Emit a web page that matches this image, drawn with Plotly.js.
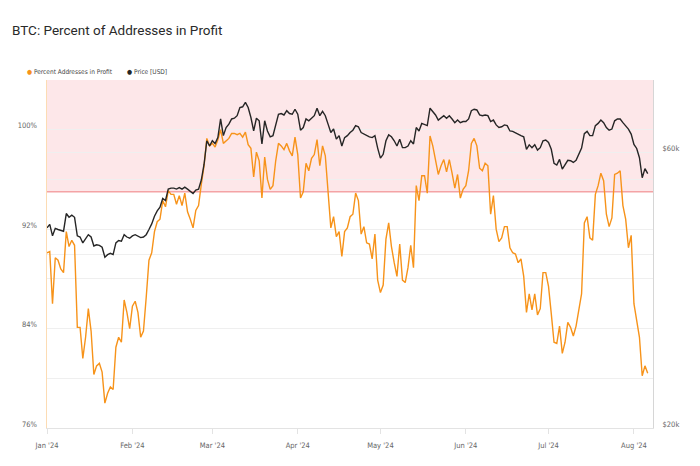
<!DOCTYPE html>
<html>
<head>
<meta charset="utf-8">
<script src="https://cdn.plot.ly/plotly-3.0.1.min.js"></script>
<style>html,body{margin:0;padding:0;background:#fff;}#chart{width:700px;height:466px;}</style>
</head>
<body>
<div id="chart"></div>
<script>
// Daily series starting 2024-01-01
const startDate = '2024-01-01';

// Percent of addresses in profit (%)
const pctInProfit = [
90.1,90.2,86.0,89.7,89.5,88.8,88.5,91.8,90.6,91.1,
90.7,84.1,84.1,81.6,83.3,85.6,83.8,80.3,81.0,81.2,
80.5,78.0,78.8,79.3,79.1,82.5,83.3,82.9,86.3,85.3,
84.0,85.8,86.2,85.3,83.3,83.8,86.5,89.5,90.1,91.8,
92.6,92.8,94.3,93.8,95.1,94.8,94.8,94.0,94.7,93.9,
94.9,93.4,92.8,92.1,93.5,93.9,95.6,97.1,99.3,98.7,
98.9,98.6,99.2,100.0,98.9,99.1,99.3,99.7,99.7,99.6,
99.7,99.4,99.8,98.8,98.5,96.2,98.2,97.5,94.5,97.8,
96.0,95.2,95.5,97.5,98.9,98.7,98.4,98.9,98.3,97.9,
99.4,98.0,94.5,95.0,97.3,96.7,97.7,98.0,99.2,97.1,
98.7,97.9,94.8,92.1,93.0,91.4,91.8,89.8,91.8,92.1,
93.0,93.2,94.9,94.3,91.6,92.2,90.9,90.8,89.6,91.6,
87.9,86.9,87.5,91.2,92.5,90.6,89.3,88.2,90.8,87.9,
87.7,88.9,90.7,88.9,95.5,94.3,96.3,96.3,94.9,99.5,
98.7,97.5,96.4,97.1,97.6,96.6,97.6,96.5,95.3,96.4,
94.5,95.2,95.5,96.7,98.9,99.3,98.7,96.9,96.7,97.3,
97.1,93.2,94.7,92.0,91.0,91.3,92.2,92.2,90.5,90.1,
90.0,89.3,89.6,88.2,85.3,86.8,85.5,86.8,85.1,85.6,
88.5,88.5,87.4,85.2,82.9,82.8,84.2,82.0,82.9,84.5,
84.1,83.4,84.2,85.5,86.8,92.5,93.0,91.3,91.1,94.8,
95.5,96.5,95.9,93.2,92.2,92.9,96.4,96.5,96.7,93.9,
92.8,90.5,91.5,86.0,84.8,83.3,80.2,81.0,80.4
];

// BTC price (USD)
const priceUSD = [
44400,45000,43000,44300,44100,43900,43800,47000,46300,46700,
46300,43000,42800,41800,42600,43200,42800,41300,41500,41400,
41100,39500,39900,40100,39900,41800,42200,42100,43200,42800,
42600,43000,43200,43000,42700,42800,43200,44100,45100,46500,
47500,48200,49900,49500,51800,52000,52000,51800,52100,51800,
52200,51800,51300,50900,51600,51800,53700,57200,62800,61500,
62800,62100,63600,68500,64100,66200,67100,68500,68700,69400,
71700,71900,73200,71700,68900,65300,68700,68000,62000,68000,
65300,63800,64100,67100,69800,70000,69600,70800,70000,69800,
71200,69800,65500,66200,68500,68000,68700,69400,71500,69400,
70600,69400,67100,64900,65800,63200,64100,61500,63600,64100,
64900,65500,66700,66400,64900,64500,64100,63800,63600,64100,
61000,58600,59500,62800,64300,63800,62800,61500,63200,61100,
61100,61500,62800,62000,66200,65300,67300,67100,66700,71500,
70600,69600,68200,68700,69400,68700,69400,68500,67500,68200,
67500,67800,67800,68500,70800,71200,71000,69600,69400,69600,
69400,67800,68200,66900,66200,66400,66900,66700,65300,65200,
64900,64600,64100,63800,60700,61800,61100,61800,60500,61100,
62800,63000,62400,60700,57400,57000,58300,56100,57200,58100,
58000,57600,58100,59500,61000,64600,65200,64100,64100,66700,
67300,68200,67500,66200,65500,65800,68000,68500,68500,67500,
66700,65800,64500,61900,60900,58700,54200,56200,55100
];

// Axis ticks
const pctTickVals = [76,80,84,88,92,96,100,104];
const pctTickText = ['76%','','84%','','92%','','100%',''];
const priceTickVals = [20000,40000,60000];
const priceTickText = ['$20k','','$60k'];
const profitThreshold = 95;

const seriesNames = ['Percent Addresses in Profit','Price [USD]'];
const colors = {pct:'#f7931a', price:'#262626'};

const dates = [];
{
  const d0 = new Date(startDate + 'T00:00:00Z');
  const n = Math.max(pctInProfit.length, priceUSD.length);
  for (let i = 0; i < n; i++) {
    const d = new Date(d0.getTime() + i*86400000);
    dates.push(d.toISOString().slice(0,10));
  }
}

const FONT = '"DejaVu Sans Condensed", "Liberation Sans", sans-serif';
const TITLEFONT = 'Roboto, "DejaVu Sans Condensed", sans-serif';

const traces = [
  {x: dates, y: pctInProfit, type:'scatter', mode:'lines', name: seriesNames[0],
   line:{color:colors.pct, width:1.4}, yaxis:'y', hoverinfo:'skip'},
  {x: dates, y: priceUSD, type:'scatter', mode:'lines', name: seriesNames[1],
   line:{color:colors.price, width:1.4}, yaxis:'y2', hoverinfo:'skip'}
];

const layout = {
  width:700, height:466,
  margin:{l:47, r:47, t:80, b:38},
  paper_bgcolor:'#fff', plot_bgcolor:'#fff',
  showlegend:false,
  font:{family:FONT, color:'#666', size:8},
  title:{text:'BTC: Percent of Addresses in Profit', xref:'container', yref:'container',
         x:12/700, xanchor:'left', y:1-30/466, yanchor:'middle',
         font:{family:TITLEFONT, size:13.5, color:'#2a2a2a'}},
  xaxis:{type:'date', range:['2024-01-01','2024-08-07 22:00'],
         dtick:'M1', tick0:'2024-01-01', tickformat:"%b '%y",
         showgrid:false, zeroline:false,
         showline:true, linecolor:'#e3e3e3', linewidth:1,
         ticks:'outside', ticklen:5, tickcolor:'#e3e3e3',
         tickfont:{size:7.5, color:'#666'}, ticklabelstandoff:5},
  yaxis:{range:[76,104], tickvals:pctTickVals, ticktext:pctTickText,
         showgrid:true, gridcolor:'#efefef', gridwidth:1, zeroline:false,
         showline:true, linecolor:'#fcdcb4', linewidth:1.5, ticks:'',
         tickfont:{size:7.5, color:'#666'}, ticklabelshift:-4, ticklabelstandoff:7},
  yaxis2:{type:'log', range:[Math.log10(20000), Math.log10(80000)], overlaying:'y', side:'right',
          tickvals:priceTickVals, ticktext:priceTickText,
          showgrid:true, gridcolor:'#efefef', gridwidth:1, zeroline:false,
          showline:true, linecolor:'#d6d6d6', linewidth:1, ticks:'',
          tickfont:{size:7.5, color:'#666'}, ticklabelshift:-4, ticklabelstandoff:7},
  shapes:[
    {type:'rect', xref:'paper', yref:'y', x0:0, x1:1, y0:profitThreshold, y1:104,
     fillcolor:'#fde7e9', line:{width:0}, layer:'below'},
    {type:'line', xref:'paper', yref:'y', x0:0, x1:1, y0:profitThreshold, y1:profitThreshold,
     line:{color:'#f4a3a5', width:1.5}, layer:'below'}
  ],
  annotations:[
    {xref:'paper', yref:'paper', x:-22/606, y:1+8/348, xanchor:'left', yanchor:'middle', showarrow:false,
     text:'<span style="color:'+colors.pct+'">●</span> '+seriesNames[0], font:{size:6.5, color:'#444', family:FONT}},
    {xref:'paper', yref:'paper', x:78/606, y:1+8/348, xanchor:'left', yanchor:'middle', showarrow:false,
     text:'<span style="color:'+colors.price+'">●</span> '+seriesNames[1], font:{size:6.5, color:'#444', family:FONT}}
  ]
};

Plotly.newPlot('chart', traces, layout, {displayModeBar:false, staticPlot:true});
</script>
</body>
</html>
